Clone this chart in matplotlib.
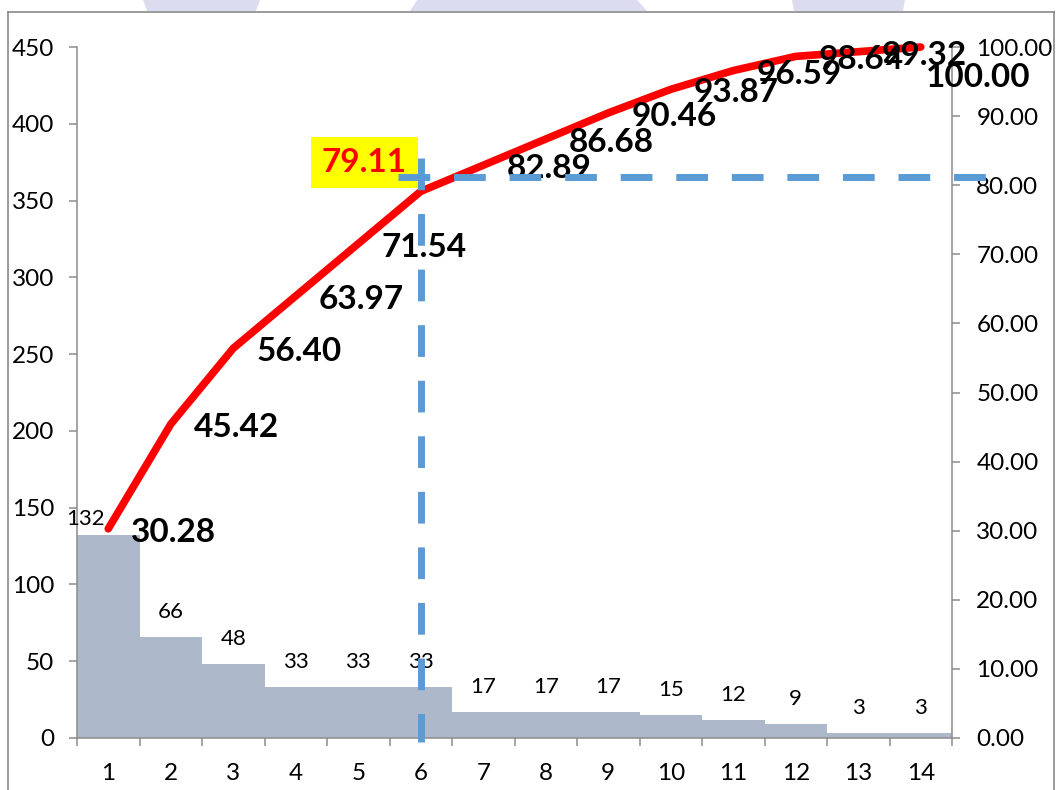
import matplotlib
matplotlib.use("Agg")
import matplotlib.pyplot as plt
from matplotlib.patches import Polygon
from matplotlib.lines import Line2D
from matplotlib.ticker import FormatStrFormatter, MultipleLocator, FixedLocator

plt.rcParams["font.family"] = ["Lato", "DejaVu Sans"]

# Pareto data: defect counts per category and cumulative percentage
categories = list(range(1, 15))
counts = [132, 66, 48, 33, 33, 33, 17, 17, 17, 15, 12, 9, 3, 3]
cum_pct = [30.28, 45.42, 56.40, 63.97, 71.54, 79.11, 82.89, 86.68,
           90.46, 93.87, 96.59, 98.64, 99.32, 100.00]
cum_labels = ["30.28", "45.42", "56.40", "63.97", "71.54", "79.11", "82.89",
              "86.68", "90.46", "93.87", "96.59", "98.64", "99.32", "100.00"]
highlight_cat = 6          # category where the 80% cut-off is marked
cutoff_pct = 81.2          # level of the horizontal guide (right axis)

W, H = 1056, 790
fig = plt.figure(figsize=(W / 100, H / 100), dpi=100)
fig.patch.set_facecolor("white")

# page decoration: faint shapes along the top edge and a thin frame
deco_color = "#dcdcf0"
for pts in ([(143, 0), (260, 0), (256, 11), (147, 11)],
            [(417, 0), (637, 0), (647, 11), (410, 11)],
            [(792, 0), (905, 0), (903, 11), (794, 11)]):
    fig.patches.append(Polygon([(x / W, 1 - y / H) for x, y in pts], closed=True,
                               transform=fig.transFigure, facecolor=deco_color,
                               edgecolor="none", zorder=0))
frame_kw = dict(transform=fig.transFigure, color="#8a8a8a", lw=1.2, zorder=1)
fig.lines.append(Line2D([8 / W, 1054 / W], [1 - 11.5 / H, 1 - 11.5 / H], **frame_kw))
fig.lines.append(Line2D([8 / W, 8 / W], [1 - 11.5 / H, 0], **frame_kw))
fig.lines.append(Line2D([1054 / W, 1054 / W], [1 - 11.5 / H, 0], **frame_kw))

ax = fig.add_axes([77 / W, 1 - 738 / H, (952 - 77) / W, (738 - 47) / H])
ax.set_facecolor("none")

# bars (left axis)
ax.bar(categories, counts, width=1.0, color="#adb9ca", edgecolor="none", zorder=2)
ax.set_xlim(0.5, 14.5)
ax.set_ylim(0, 450)
ax.yaxis.set_major_locator(MultipleLocator(50))

for c, v in zip(categories, counts):
    if c == 1:
        ax.annotate(str(v), (c, v), xytext=(-23, 10), textcoords="offset pixels",
                    ha="center", va="baseline", fontsize=16, color="black", zorder=4)
    else:
        ax.annotate(str(v), (c, v), xytext=(0, 19), textcoords="offset pixels",
                    ha="center", va="baseline", fontsize=16, color="black", zorder=4)

spine_color = "#8c8c8c"
for s in ("top", "right"):
    ax.spines[s].set_visible(False)
for s in ("left", "bottom"):
    ax.spines[s].set_color(spine_color)
    ax.spines[s].set_linewidth(1.1)

# category boundaries carry the tick marks, labels sit at the centres
ax.xaxis.set_major_locator(FixedLocator([c - 0.5 for c in categories] + [14.5]))
ax.xaxis.set_major_formatter(plt.NullFormatter())
ax.set_xticks(categories, minor=True)
ax.set_xticklabels([str(c) for c in categories], minor=True)
ax.tick_params(axis="x", which="major", direction="out", length=6, width=1.1,
               color=spine_color)
ax.tick_params(axis="x", which="minor", length=0, pad=18, labelsize=17.5)
ax.tick_params(axis="y", direction="out", length=5.5, width=1.1, color=spine_color,
               pad=11, labelsize=17.5)

# cumulative percentage (right axis)
ax2 = ax.twinx()
ax2.set_ylim(0, 100)
ax2.yaxis.set_major_locator(MultipleLocator(10))
ax2.yaxis.set_major_formatter(FormatStrFormatter("%.2f"))
for s in ("top", "left", "bottom"):
    ax2.spines[s].set_visible(False)
ax2.spines["right"].set_color(spine_color)
ax2.spines["right"].set_linewidth(1.1)
ax2.tick_params(axis="y", direction="out", length=5.5, width=1.1, color=spine_color,
                pad=12, labelsize=17.5)

ax2.plot(categories, cum_pct, color="#ff0000", lw=5.5, solid_capstyle="round",
         solid_joinstyle="round", clip_on=False, zorder=3)

for c, p, lab in zip(categories, cum_pct, cum_labels):
    if c == highlight_cat:
        ax2.annotate(lab, (c, p), xytext=(-99, 19), textcoords="offset pixels",
                     ha="left", va="baseline", fontsize=24, fontweight="bold",
                     color="#ff0000", zorder=4, annotation_clip=False,
                     bbox=dict(boxstyle="square,pad=0.33", facecolor="#ffff00",
                               edgecolor="none"))
    elif c == categories[-1]:
        ax2.annotate(lab, (c, p), xytext=(5, -40), textcoords="offset pixels",
                     ha="left", va="baseline", fontsize=24, fontweight="bold",
                     color="black", zorder=4, annotation_clip=False)
    else:
        ax2.annotate(lab, (c, p), xytext=(23, -13), textcoords="offset pixels",
                     ha="left", va="baseline", fontsize=24, fontweight="bold",
                     color="black", zorder=4, annotation_clip=False)

# dashed guides marking the cut-off
guide_kw = dict(color="#5b9bd5", lw=5.0, dashes=(4.57, 3.43), dash_capstyle="butt",
                clip_on=False, zorder=6)
ax2.plot([highlight_cat - 0.364, 15.12], [cutoff_pct, cutoff_pct], **guide_kw)
ax2.plot([highlight_cat, highlight_cat], [83.9, -0.6], **guide_kw)

fig.savefig("out.png", dpi=100, facecolor="white")
